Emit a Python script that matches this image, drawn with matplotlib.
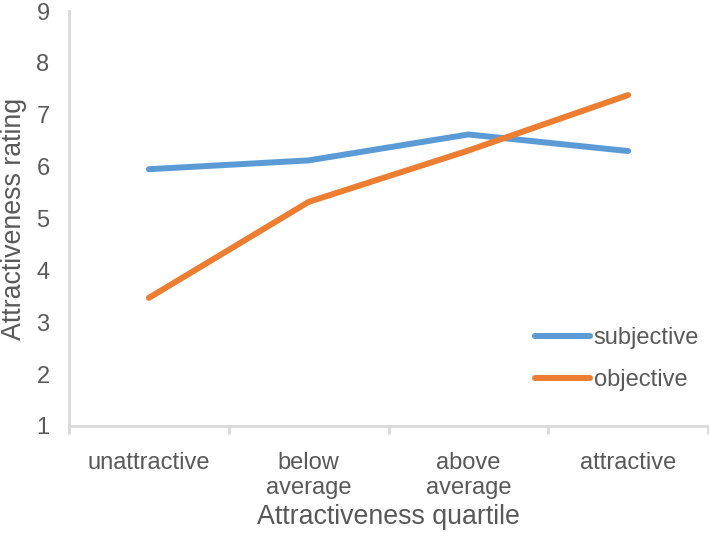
import matplotlib.pyplot as plt

# values
quartiles = ['unattractive', 'below\naverage', 'above\naverage', 'attractive']
subjective = [5.95, 6.12, 6.62, 6.30]
objective = [3.47, 5.32, 6.31, 7.38]

BLUE = '#5B9BD5'
ORANGE = '#ED7D31'
AXIS = '#D9D9D9'
TEXT = '#595959'

plt.rcParams['font.family'] = ['Liberation Sans', 'DejaVu Sans']


def main():
    fig = plt.figure(figsize=(7.09, 5.37), dpi=100)
    ax = fig.add_axes([69 / 709, 111 / 537, 639 / 709, 415 / 537])

    x = list(range(len(quartiles)))
    ax.plot(x, subjective, color=BLUE, lw=4.3, solid_capstyle='round',
            solid_joinstyle='round', label='subjective')
    ax.plot(x, objective, color=ORANGE, lw=4.3, solid_capstyle='round',
            solid_joinstyle='round', label='objective')

    ax.set_xlim(-0.5, len(quartiles) - 0.5)
    ax.set_ylim(1, 9)
    ax.set_yticks(range(1, 10))

    ax.set_xticks(x)
    ax.set_xticklabels(quartiles, fontsize=17, color=TEXT, linespacing=1.15)
    ax.set_xticks([i - 0.5 for i in range(len(quartiles) + 1)], minor=True)
    ax.tick_params(axis='x', which='major', length=0, pad=19)
    ax.tick_params(axis='x', which='minor', length=6, width=2, color=AXIS,
                   direction='out')
    ax.tick_params(axis='y', length=0, pad=14, labelsize=17, labelcolor=TEXT)

    for side in ['top', 'right']:
        ax.spines[side].set_visible(False)
    for side in ['left', 'bottom']:
        ax.spines[side].set_color(AXIS)
        ax.spines[side].set_linewidth(2)

    ax.set_ylabel('Attractiveness rating', fontsize=19.3, color=TEXT)
    ax.yaxis.set_label_coords(-42 / 639, 0.5)
    ax.set_xlabel('Attractiveness quartile', fontsize=19.3, color=TEXT)
    ax.xaxis.set_label_coords(0.5, -78 / 415)

    leg = ax.legend(loc='center left', bbox_to_anchor=(523 / 709, 1 - 359 / 537),
                    bbox_transform=fig.transFigure, frameon=False, fontsize=17,
                    handlelength=2.35, handletextpad=0.15, labelspacing=0.85,
                    borderpad=0)
    for t in leg.get_texts():
        t.set_color(TEXT)

    fig.savefig('out.png', dpi=100)


if __name__ == "__main__":
    main()
